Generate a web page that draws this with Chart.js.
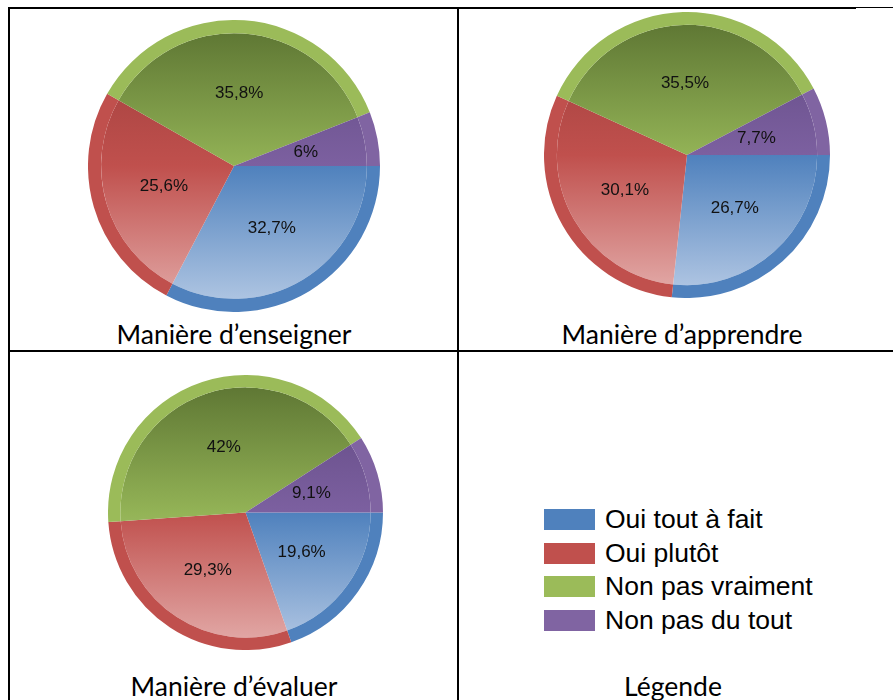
<!DOCTYPE html>
<html lang="fr">
<head>
<meta charset="utf-8">
<script src="https://cdn.jsdelivr.net/npm/chart.js@4.4.1/dist/chart.umd.min.js"></script>
<style>
  body { margin: 0; background: #fff; width: 893px; height: 700px; position: relative; overflow: hidden; }
  .line { position: absolute; background: #000; }
  .pie { position: absolute; }
  .cap { position: absolute; transform: translate(-50%, -50%); white-space: nowrap; color: #000;
         font-family: Lato, "Open Sans", sans-serif; font-size: 26.5px; line-height: 1; }
  #legend { position: absolute; left: 544px; top: 503px; font-family: "Liberation Sans", Arial, sans-serif; font-size: 26.5px; color: #000; }
  .item { display: flex; align-items: center; height: 33.5px; }
  .box { width: 51px; height: 21px; margin-right: 10px; flex: none; }
</style>
</head>
<body>
<div class="line" style="left:8px;top:7px;width:848px;height:2px"></div>
<div class="line" style="left:856px;top:7px;width:37px;height:1px"></div>
<div class="line" style="left:8px;top:7px;width:2px;height:693px"></div>
<div class="line" style="left:457px;top:7px;width:2px;height:693px"></div>
<div class="line" style="left:8px;top:350px;width:885px;height:2px"></div>

<div class="pie" style="left:88px;top:20px;width:292px;height:292px"><canvas id="pie1"></canvas></div>
<div class="pie" style="left:544px;top:12px;width:286px;height:286px"><canvas id="pie2"></canvas></div>
<div class="pie" style="left:108px;top:375px;width:275px;height:275px"><canvas id="pie3"></canvas></div>

<div class="cap" style="left:234px;top:334px">Manière d’enseigner</div>
<div class="cap" style="left:682px;top:334px">Manière d’apprendre</div>
<div class="cap" style="left:234px;top:686px">Manière d’évaluer</div>
<div class="cap" style="left:673px;top:686px">Légende</div>

<div id="legend"></div>

<script>
const categories = ['Oui tout à fait', 'Oui plutôt', 'Non pas vraiment', 'Non pas du tout'];
const enseigner = [32.7, 25.6, 35.8, 6];
const apprendre = [26.7, 30.1, 35.5, 7.7];
const evaluer = [19.6, 29.3, 42, 9.1];

const baseColors = ['#4f81bd', '#c0504d', '#9bbb59', '#8064a2'];
// dark top / base middle / light bottom for the inner fill
const shades = [
  ['#3d6799', '#4f81bd', '#b6cae5'],
  ['#9a3c3a', '#c0504d', '#e4aeac'],
  ['#5a7231', '#93b356', '#c8dca4'],
  ['#5f4780', '#7c60a0', '#b3a2c9']
];

function innerFill(c) {
  const chart = c.chart;
  const area = chart.chartArea;
  if (!area) return baseColors[c.dataIndex];
  const s = shades[c.dataIndex];
  const g = chart.ctx.createLinearGradient(0, area.top, 0, area.bottom);
  g.addColorStop(0, s[0]);
  g.addColorStop(0.5, s[1]);
  g.addColorStop(1, s[2]);
  return g;
}

const pctLabels = {
  id: 'pctLabels',
  afterDatasetsDraw(chart) {
    const ctx = chart.ctx;
    const outer = chart.getDatasetMeta(0);
    const inner = chart.getDatasetMeta(1);
    const values = chart.data.datasets[1].data;
    ctx.save();
    ctx.font = '17px "Liberation Sans", Arial, sans-serif';
    ctx.fillStyle = '#111';
    ctx.textAlign = 'center';
    ctx.textBaseline = 'middle';
    inner.data.forEach((arc, i) => {
      const p = arc.getProps(['x', 'y', 'startAngle', 'endAngle'], true);
      const a = (p.startAngle + p.endAngle) / 2;
      const r = outer.data[i].outerRadius * 0.5;
      const txt = String(values[i]).replace('.', ',') + '%';
      ctx.fillText(txt, p.x + Math.cos(a) * r, p.y + Math.sin(a) * r);
    });
    ctx.restore();
  }
};

function makePie(id, values) {
  new Chart(document.getElementById(id), {
    type: 'pie',
    data: {
      labels: categories,
      datasets: [
        { data: values, backgroundColor: baseColors, weight: 9, borderWidth: 0, hoverOffset: 0 },
        { data: values, backgroundColor: innerFill, weight: 91, borderWidth: 0, hoverOffset: 0 }
      ]
    },
    options: {
      responsive: true,
      maintainAspectRatio: false,
      animation: false,
      events: [],
      rotation: 90,
      layout: { padding: 0 },
      plugins: { legend: { display: false }, tooltip: { enabled: false } }
    },
    plugins: [pctLabels]
  });
}

makePie('pie1', enseigner);
makePie('pie2', apprendre);
makePie('pie3', evaluer);

// legend cell
const legend = document.getElementById('legend');
categories.forEach((name, i) => {
  const row = document.createElement('div');
  row.className = 'item';
  const box = document.createElement('span');
  box.className = 'box';
  box.style.background = baseColors[i];
  const label = document.createElement('span');
  label.textContent = name;
  row.appendChild(box);
  row.appendChild(label);
  legend.appendChild(row);
});
</script>
</body>
</html>
